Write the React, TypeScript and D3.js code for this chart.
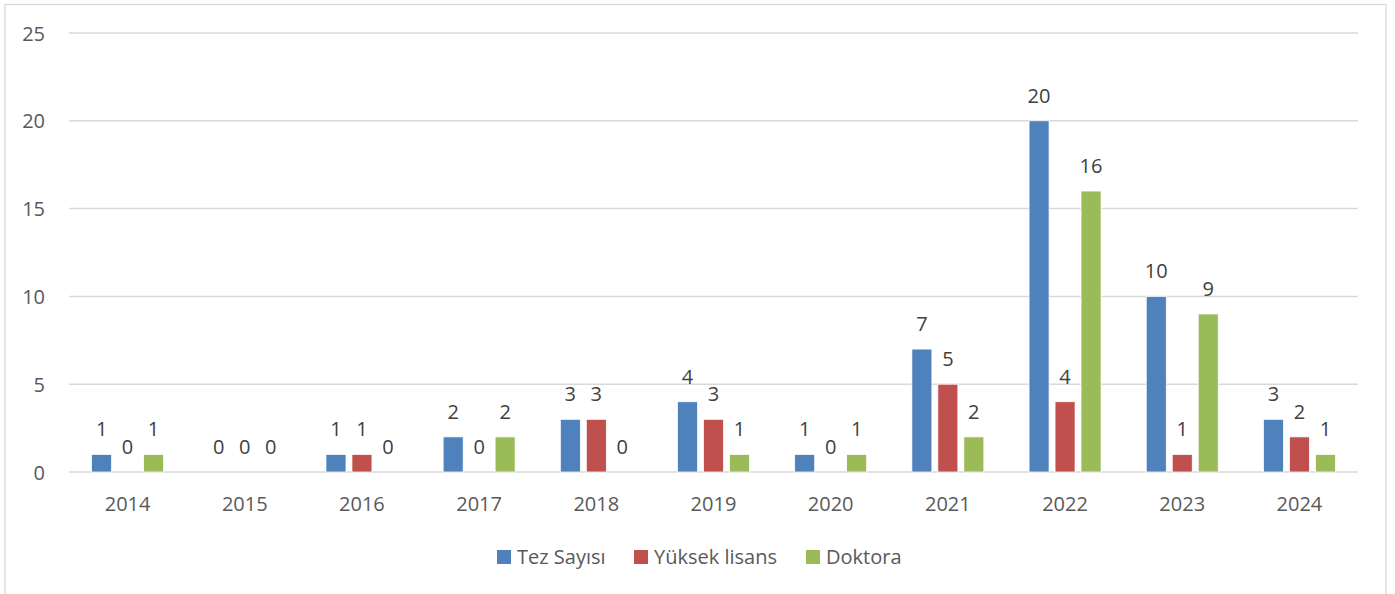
import React from "react";
import * as d3 from "d3";

const years = ["2014", "2015", "2016", "2017", "2018", "2019", "2020", "2021", "2022", "2023", "2024"];
const seriesNames = ["Tez Sayısı", "Yüksek lisans", "Doktora"];
const tezSayisi = [1, 0, 1, 2, 3, 4, 1, 7, 20, 10, 3];
const yuksekLisans = [0, 0, 1, 0, 3, 3, 0, 5, 4, 1, 2];
const doktora = [1, 0, 0, 2, 0, 1, 1, 2, 16, 9, 1];
const yTicks = [0, 5, 10, 15, 20, 25];
const colors = ["#4F81BD", "#C0504D", "#9BBB59"];

const W = 1395;
const H = 594;
const FONT = "'Open Sans', 'Noto Sans', sans-serif";
const TEXT = "#595959";

export default function App() {
  const values = [tezSayisi, yuksekLisans, doktora];
  const x0 = d3.scaleBand<string>().domain(years).range([69, 1358]).padding(0);
  const x1 = d3
    .scaleBand<string>()
    .domain(seriesNames)
    .range([0, x0.bandwidth()])
    .paddingInner(0.23)
    .paddingOuter(0.87);
  const y = d3.scaleLinear().domain([0, 25]).range([472, 33]);

  return (
    <svg width={W} height={H} style={{ position: "absolute", left: 0, top: 0, background: "#fff" }} fontFamily={FONT}>
      <rect x={5} y={4.5} width={1381} height={H + 10} fill="#fff" stroke="#D9D9D9" strokeWidth={1.3} />
      {yTicks.map((t) => (
        <g key={t}>
          <line x1={69} x2={1358} y1={y(t)} y2={y(t)} stroke="#D9D9D9" strokeWidth={1.5} />
          <text x={45} y={y(t) + 7.5} textAnchor="end" fontSize={20} fill={TEXT}>
            {t}
          </text>
        </g>
      ))}
      {years.map((yr, i) => (
        <g key={yr} transform={`translate(${x0(yr)},0)`}>
          {seriesNames.map((s, j) => {
            const v = values[j][i];
            const bx = x1(s)!;
            const bw = x1.bandwidth();
            return (
              <g key={s}>
                {v > 0 && (
                  <rect x={bx} y={y(v)} width={bw} height={y(0) - y(v)} fill={colors[j]} stroke="#fff" strokeWidth={0.75} />
                )}
                <text x={bx + bw / 2} y={y(v) - 18} textAnchor="middle" fontSize={20} fill="#404040">
                  {v}
                </text>
              </g>
            );
          })}
          <text x={x0.bandwidth() / 2} y={511} textAnchor="middle" fontSize={20} fill={TEXT}>
            {yr}
          </text>
        </g>
      ))}
      {[
        { x: 497, tx: 517 },
        { x: 634, tx: 654 },
        { x: 806, tx: 826 },
      ].map((p, j) => (
        <g key={j}>
          <rect x={p.x} y={550} width={14} height={14} fill={colors[j]} />
          <text x={p.tx} y={564} fontSize={20} fill={TEXT}>
            {seriesNames[j]}
          </text>
        </g>
      ))}
    </svg>
  );
}
